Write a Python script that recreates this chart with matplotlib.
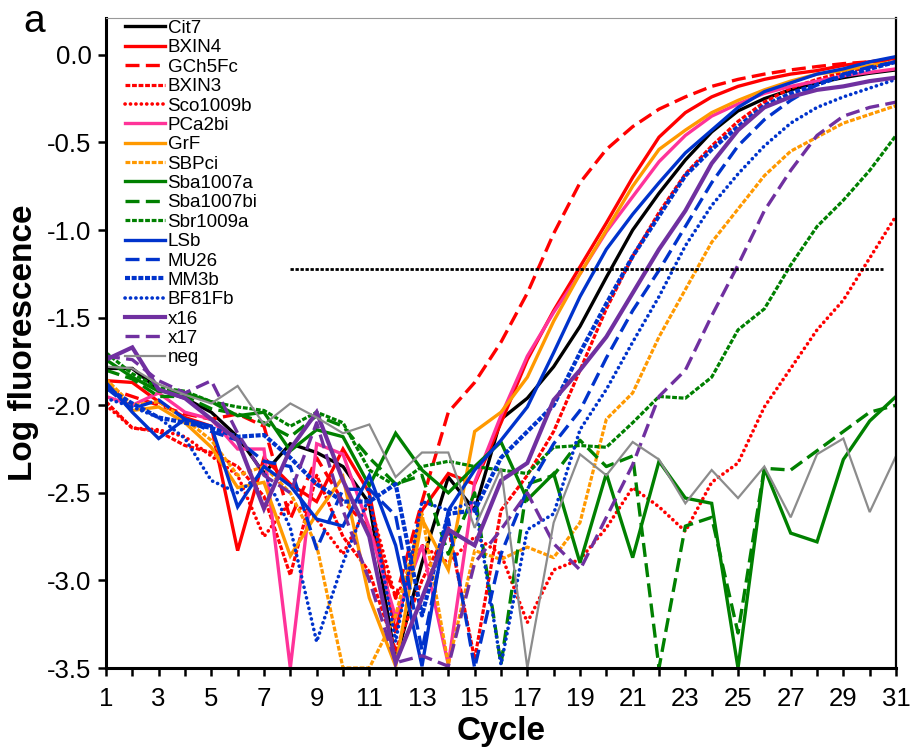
import matplotlib
matplotlib.use("Agg")
import matplotlib.pyplot as plt

plt.rcParams['font.family'] = ['Liberation Sans', 'DejaVu Sans']

cycles = list(range(1, 32))

Cit7 = [-1.79, -1.79, -1.91, -1.96, -2.04, -2.18, -2.39, -2.22, -2.27, -2.35, -2.56, -3.46, -2.90, -2.41, -2.60, -2.08,
        -1.96, -1.78, -1.55, -1.27, -1.00, -0.79, -0.60, -0.44, -0.32, -0.25, -0.20, -0.16, -0.13, -0.105, -0.086]
BXIN4 = [-1.86, -1.87, -1.98, -2.07, -2.12, -2.83, -2.30, -2.45, -2.55, -2.25, -2.50, -3.30, -2.60, -2.39, -2.45, -2.10,
         -1.74, -1.46, -1.21, -0.96, -0.70, -0.47, -0.33, -0.24, -0.18, -0.14, -0.11, -0.09, -0.06, -0.04, -0.02]
GCh5Fc = [-1.90, -1.95, -2.00, -2.05, -2.08, -2.05, -2.12, -2.65, -2.30, -2.55, -2.70, -3.10, -2.55, -2.04, -1.87, -1.64,
          -1.36, -1.02, -0.73, -0.54, -0.41, -0.31, -0.24, -0.18, -0.14, -0.11, -0.086, -0.067, -0.05, -0.04, -0.03]
BXIN3 = [-1.98, -2.13, -2.15, -2.23, -2.27, -2.35, -2.52, -2.97, -2.40, -2.75, -2.95, -3.40, -3.00, -2.70, -3.45, -2.60,
         -2.40, -2.15, -1.80, -1.45, -1.15, -0.90, -0.68, -0.52, -0.38, -0.27, -0.19, -0.14, -0.10, -0.07, -0.04]
Sco1009b = [-2.00, -2.13, -2.14, -2.18, -2.29, -2.40, -2.75, -2.55, -2.65, -2.85, -2.55, -3.10, -2.80, -2.90, -2.75, -2.85,
            -3.24, -2.94, -2.88, -2.70, -2.47, -2.58, -2.72, -2.44, -2.33, -2.01, -1.79, -1.57, -1.40, -1.16, -0.92]
PCa2bi = [-1.95, -2.00, -1.93, -2.04, -2.08, -2.25, -2.25, -3.50, -2.22, -2.28, -2.70, -3.21, -2.80, -3.48, -2.44, -2.06,
          -1.72, -1.47, -1.25, -1.01, -0.81, -0.61, -0.46, -0.35, -0.28, -0.22, -0.18, -0.15, -0.12, -0.10, -0.08]
GrF = [-1.86, -2.03, -2.01, -2.10, -2.24, -2.47, -2.44, -2.86, -2.62, -2.41, -3.10, -3.49, -2.65, -2.94, -2.15, -2.04,
       -1.84, -1.52, -1.25, -1.00, -0.75, -0.54, -0.43, -0.33, -0.26, -0.20, -0.15, -0.11, -0.09, -0.06, -0.04]
SBPci = [-1.85, -2.00, -1.98, -2.08, -2.20, -2.40, -2.35, -2.50, -2.80, -3.50, -3.50, -3.20, -2.62, -3.48, -2.83, -2.88,
         -2.81, -2.87, -2.67, -2.08, -1.93, -1.61, -1.34, -1.07, -0.88, -0.69, -0.55, -0.47, -0.39, -0.34, -0.29]
Sba1007a = [-1.74, -1.84, -1.92, -1.93, -1.98, -2.06, -2.04, -2.26, -2.14, -2.18, -2.46, -2.16, -2.37, -2.50, -2.35, -2.21,
            -2.54, -2.39, -2.90, -2.39, -2.87, -2.32, -2.53, -2.56, -3.50, -2.36, -2.73, -2.78, -2.31, -2.09, -1.95]
Sba1007bi = [-1.80, -1.85, -1.95, -1.95, -2.02, -2.05, -2.10, -2.18, -2.06, -2.12, -2.30, -2.45, -2.40, -2.85, -2.50, -3.48,
             -2.45, -2.40, -2.20, -2.35, -2.29, -3.50, -2.69, -2.64, -3.30, -2.36, -2.37, -2.26, -2.15, -2.04, -2.00]
Sbr1009a = [-1.70, -1.82, -1.90, -1.92, -1.98, -2.01, -2.03, -2.12, -2.04, -2.10, -2.37, -2.46, -2.35, -2.32, -2.35, -2.37,
            -2.39, -2.24, -2.23, -2.24, -2.10, -1.95, -1.96, -1.84, -1.57, -1.45, -1.20, -0.98, -0.83, -0.66, -0.46]
LSb = [-1.87, -2.04, -2.19, -2.08, -2.12, -2.58, -2.35, -2.46, -2.65, -2.69, -2.40, -2.80, -3.49, -2.60, -2.37, -2.20,
       -2.01, -1.70, -1.38, -1.11, -0.91, -0.73, -0.56, -0.43, -0.30, -0.21, -0.16, -0.11, -0.08, -0.04, -0.01]
MU26 = [-1.90, -2.02, -1.97, -2.08, -2.15, -2.20, -2.32, -2.35, -2.82, -2.48, -2.48, -2.63, -3.40, -2.65, -3.50, -2.85,
        -2.48, -2.22, -2.03, -1.73, -1.46, -1.23, -0.98, -0.73, -0.52, -0.37, -0.26, -0.17, -0.11, -0.07, -0.04]
MM3b = [-1.90, -1.99, -2.07, -2.10, -2.13, -2.18, -2.17, -2.30, -2.45, -2.55, -2.55, -2.45, -3.20, -2.62, -2.60, -2.30,
        -2.15, -2.00, -1.70, -1.42, -1.15, -0.92, -0.69, -0.54, -0.41, -0.29, -0.22, -0.17, -0.12, -0.08, -0.04]
BF81Fb = [-1.96, -2.01, -2.07, -2.19, -2.43, -2.50, -2.38, -2.70, -3.35, -2.90, -2.52, -3.35, -2.55, -2.60, -2.55, -3.48,
          -2.71, -2.62, -2.14, -1.91, -1.64, -1.38, -1.09, -0.86, -0.68, -0.52, -0.39, -0.30, -0.24, -0.19, -0.14]
x16 = [-1.74, -1.67, -1.91, -1.96, -2.08, -2.20, -2.59, -2.25, -2.04, -2.43, -2.75, -3.47, -3.10, -2.71, -2.80, -2.43,
       -2.33, -1.97, -1.80, -1.61, -1.36, -1.11, -0.89, -0.62, -0.43, -0.30, -0.24, -0.20, -0.18, -0.15, -0.13]
x17 = [-1.72, -1.74, -1.86, -1.93, -1.86, -2.16, -2.40, -2.50, -2.10, -2.60, -3.00, -3.47, -3.43, -3.49, -2.90, -2.71,
       -2.50, -2.79, -2.94, -2.64, -2.34, -1.95, -1.80, -1.49, -1.20, -0.89, -0.66, -0.46, -0.35, -0.30, -0.27]
neg = [-1.78, -1.79, -1.88, -1.94, -1.99, -1.89, -2.11, -1.99, -2.07, -2.16, -2.11, -2.41, -2.27, -2.27, -2.70, -2.36,
       -3.50, -2.67, -2.28, -2.40, -2.21, -2.31, -2.56, -2.37, -2.53, -2.35, -2.64, -2.28, -2.19, -2.61, -2.29]

threshold = -1.22
threshold_span = (8.0, 30.5)

RED = '#FF0000'
PINK = '#FF3399'
ORANGE = '#FF9900'
GREEN = '#008000'
BLUE = '#0033CC'
PURPLE = '#7030A0'
GRAY = '#8C8C8C'

LONG = (0, (4.2, 1.9))
SHORT = (0, (1.5, 0.55))
DENSE = (0, (1.2, 0.4))
DOT = (0, (0.05, 1.45))

series = [
    ('Cit7', Cit7, 'black', '-', 2.4),
    ('BXIN4', BXIN4, RED, '-', 2.4),
    ('GCh5Fc', GCh5Fc, RED, LONG, 2.4),
    ('BXIN3', BXIN3, RED, SHORT, 2.3),
    ('Sco1009b', Sco1009b, RED, DOT, 2.6),
    ('PCa2bi', PCa2bi, PINK, '-', 2.4),
    ('GrF', GrF, ORANGE, '-', 2.4),
    ('SBPci', SBPci, ORANGE, SHORT, 2.3),
    ('Sba1007a', Sba1007a, GREEN, '-', 2.4),
    ('Sba1007bi', Sba1007bi, GREEN, LONG, 2.4),
    ('Sbr1009a', Sbr1009a, GREEN, SHORT, 2.3),
    ('LSb', LSb, BLUE, '-', 2.4),
    ('MU26', MU26, BLUE, LONG, 2.4),
    ('MM3b', MM3b, BLUE, DENSE, 3.0),
    ('BF81Fb', BF81Fb, BLUE, DOT, 2.6),
    ('x16', x16, PURPLE, '-', 3.0),
    ('x17', x17, PURPLE, LONG, 2.4),
    ('neg', neg, GRAY, '-', 1.6),
]

fig = plt.figure(figsize=(9.19, 7.52), dpi=100)
ax = fig.add_axes([0.1153, 0.1117, 0.975 - 0.1153, 0.976 - 0.1117])

handles = []
for name, vals, col, ls, lw in series:
    cap = 'round' if ls == DOT else 'butt'
    ln, = ax.plot(cycles, vals, color=col, linestyle=ls, linewidth=lw,
                  dash_capstyle=cap, solid_joinstyle='miter', label=name)
    handles.append(ln)

ax.plot(list(threshold_span), [threshold, threshold], color='black',
        linestyle=(0, (1.2, 0.6)), linewidth=2.0)

ax.set_xlim(1, 31)
ax.set_ylim(-3.5, 0.21)
ax.set_xticks(range(1, 32))
ax.set_xticklabels([str(c) if c % 2 == 1 else '' for c in range(1, 32)])
ax.set_yticks([0.0, -0.5, -1.0, -1.5, -2.0, -2.5, -3.0, -3.5])
ax.set_yticklabels(['0.0', '-0.5', '-1.0', '-1.5', '-2.0', '-2.5', '-3.0', '-3.5'])
ax.tick_params(axis='both', direction='out', length=5.5, width=1.8, labelsize=18.5, color='black')
ax.tick_params(axis='x', pad=8)
ax.tick_params(axis='y', pad=5)

for side in ['left', 'bottom']:
    ax.spines[side].set_linewidth(2.2)
    ax.spines[side].set_color('black')
ax.spines['right'].set_linewidth(1.6)
ax.spines['right'].set_color('black')
ax.spines['top'].set_linewidth(0.8)
ax.spines['top'].set_color('#999999')

ax.set_xlabel('Cycle', fontsize=24, fontweight='bold', labelpad=4)
ax.set_ylabel('Log fluorescence', fontsize=24, fontweight='bold', labelpad=6)

leg = ax.legend(handles=handles, loc='upper left', bbox_to_anchor=(0.0215, 1.0),
                frameon=False, fontsize=13.5, handlelength=2.13, handletextpad=0.15,
                labelspacing=0.12, borderpad=0.1, borderaxespad=0.0)

fig.text(0.025, 0.995, 'a', fontsize=28, va='top', ha='left')

fig.savefig('out.png', dpi=100)
